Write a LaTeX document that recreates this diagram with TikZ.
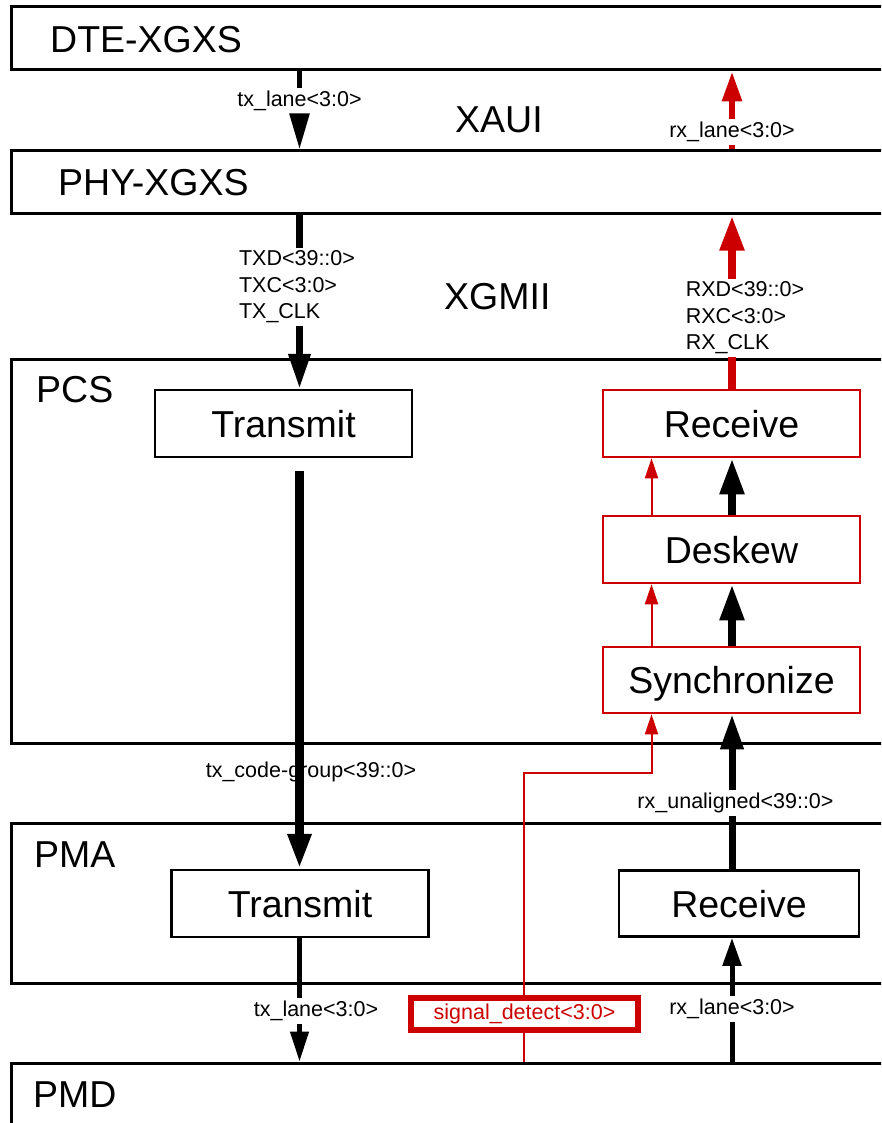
\documentclass[tikz,border=0pt]{standalone}
\usepackage{fontspec}
\setmainfont{Liberation Sans}
\usetikzlibrary{arrows.meta,calc}
\definecolor{rd}{RGB}{204,0,0}
\newcommand\bigfnt{\fontsize{37.5}{41}\selectfont}
\newcommand\smallfnt{\fontsize{21.5}{26.5}\selectfont}
\begin{document}
\begin{tikzpicture}[x=1pt,y=-1pt,
  layer/.style={draw=black,line width=3pt,minimum width=895pt,inner sep=0pt},
  blkbox/.style={draw=black,line width=2.5pt,minimum width=257pt,minimum height=67pt,inner sep=0pt,font=\bigfnt,text height=27pt,text depth=0pt},
  redbox/.style={blkbox,draw=rd},
  title/.style={anchor=west,inner sep=0pt,font=\bigfnt},
  lbl/.style={inner sep=3pt,font=\smallfnt,align=left},
  thinred/.style={rd,line width=2pt,-{Triangle[length=20pt,width=13pt]}}
]
\useasboundingbox (0,0) rectangle (881,1123);
\clip (0,0) rectangle (881,1123);

% layers
\node[layer,minimum height=63pt] (dte) at (458.5,38.5) {};
\node[layer,minimum height=63pt] (phy) at (458.5,182.5) {};
\node[layer,minimum height=384pt] (pcs) at (458.5,551) {};
\node[layer,minimum height=160pt] (pma) at (458.5,903) {};
\node[layer,minimum height=140pt] (pmd) at (458.5,1133) {};

% titles
\node[title] (tdte) at (50,40) {DTE-XGXS};
\node[title] (tphy) at (58,183) {PHY-XGXS};
\node[title] (tpcs) at (36,390) {PCS};
\node[title] (tpma) at (34,855) {PMA};
\node[title] (tpmd) at (33,1095) {PMD};
\node[title] (txaui) at (455,120) {XAUI};
\node[title] (txgmii) at (444,297) {XGMII};

% inner boxes
\node[blkbox] (ptx) at (283.5,423.5) {Transmit};
\node[redbox] (prx) at (731.5,423.5) {Receive};
\node[redbox] (dsk) at (731.5,549.5) {Deskew};
\node[redbox,minimum height=66pt] (syn) at (731.5,680) {Synchronize};
\node[blkbox] (mtx) at (300,903.5) {Transmit};
\node[blkbox,minimum width=240pt,minimum height=66pt] (mrx) at (739,903.5) {Receive};

% columns
\coordinate (cL) at (299.5,0);
\coordinate (cR) at (732,0);

% top tx_lane
\node[lbl] (l1) at (299.5,101) {tx\_lane<3:0>};
\draw[line width=5.5pt] (dte.south -| cL) -- (l1.north -| cL);
\draw[line width=5.5pt,-{Triangle[length=36pt,width=19pt]}] (l1.south -| cL) -- (phy.north -| cL);

% top rx_lane
\node[lbl] (l2) at (732,132) {rx\_lane<3:0>};
\draw[rd,line width=6pt] (phy.north -| cR) -- (l2.south -| cR);
\draw[rd,line width=6pt,-{Triangle[length=30pt,width=19pt]}] (l2.north -| cR) -- (dte.south -| cR);

% TXD
\node[lbl] (l3) at (297,287) {TXD<39::0>\\TXC<3:0>\\TX\_CLK};
\draw[line width=7pt] (phy.south -| cL) -- (l3.north -| cL);
\draw[line width=7pt,-{Triangle[length=35pt,width=21pt]}] (l3.south -| cL) -- (ptx.north -| cL);

% RXD
\node[lbl] (l4) at (745,318) {RXD<39::0>\\RXC<3:0>\\RX\_CLK};
\draw[rd,line width=8pt] (prx.north -| cR) -- (l4.south -| cR);
\draw[rd,line width=8pt,-{Triangle[length=35pt,width=23pt]}] (l4.north -| cR) -- (phy.south -| cR);

% tx_code-group
\node[lbl] (l5) at (311,772) {tx\_code-group<39::0>};
\draw[line width=9pt,-{Triangle[length=35pt,width=22pt]}] ($(ptx.south -| cL)+(0,13)$) -- (mtx.north -| cL);

% PCS receive chain
\draw[line width=8pt,-{Triangle[length=36pt,width=23pt]}] (dsk.north -| cR) -- (prx.south -| cR);
\draw[line width=8pt,-{Triangle[length=36pt,width=23pt]}] (syn.north -| cR) -- (dsk.south -| cR);

% rx_unaligned
\node[lbl] (l6) at (735.5,803) {rx\_unaligned<39::0>};
\draw[line width=7pt] (mrx.north -| cR) -- (l6.south -| cR);
\draw[line width=7pt,-{Triangle[length=35pt,width=22pt]}] (l6.north -| cR) -- (syn.south -| cR);

% bottom tx_lane
\node[lbl] (l7) at (316,1011) {tx\_lane<3:0>};
\draw[line width=4.5pt] (mtx.south -| cL) -- (l7.north -| cL);
\draw[line width=4.5pt,-{Triangle[length=30pt,width=18pt]}] (l7.south -| cL) -- (pmd.north -| cL);

% bottom rx_lane
\node[lbl] (l8) at (732,1009) {rx\_lane<3:0>};
\draw[line width=5pt] (pmd.north -| cR) -- (l8.south -| cR);
\draw[line width=5pt,-{Triangle[length=28pt,width=18pt]}] (l8.north -| cR) -- (mrx.south -| cR);

% signal detect path
\coordinate (c1) at (524,773);
\coordinate (c2) at (651.5,773);
\draw[thinred] (pmd.north -| c1) -- (c1) -- (c2) -- (syn.south -| c2);
\draw[thinred] (syn.north -| c2) -- (dsk.south -| c2);
\draw[thinred] (dsk.north -| c2) -- (prx.south -| c2);

\node[draw=rd,line width=6.5pt,fill=white,text=rd,font=\smallfnt,minimum width=227pt,minimum height=32pt,inner sep=0pt] (sd) at (524.5,1014) {signal\_detect<3:0>};
\end{tikzpicture}
\end{document}
